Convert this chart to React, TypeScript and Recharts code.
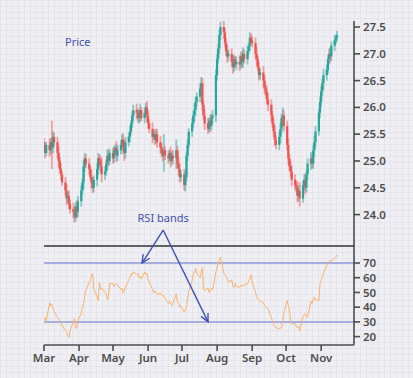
import {
  Bar,
  ComposedChart,
  Line,
  LineChart,
  ReferenceLine,
  XAxis,
  YAxis,
} from "recharts";

// closing prices per trading day, Mar 1 -> Nov 15
const closes = [
  // Mar
  25.25, 25.15, 25.3, 25.2, 25.35, 25.25, 25.45, 25.35, 25.15, 25.0, 24.85,
  24.75, 24.6, 24.45, 24.3, 24.35, 24.2, 24.1, 24.05, 23.95, 24.15, 24.05,
  24.25,
  // Apr
  24.45, 24.6, 24.9, 25.05, 24.95, 24.85, 24.7, 24.6, 24.5, 24.65, 24.85,
  25.05, 25.0, 24.9, 24.75, 24.8, 24.95, 25.1, 25.0, 25.15,
  // May
  25.05, 25.2, 25.25, 25.1, 25.2, 25.3, 25.4, 25.25, 25.15, 25.35, 25.45,
  25.55, 25.7, 25.85, 25.95, 25.9, 25.8, 25.85, 25.95, 25.8, 25.9, 26.0,
  25.85,
  // Jun
  25.7, 25.6, 25.45, 25.5, 25.4, 25.5, 25.35, 25.25, 25.15, 25.1, 25.2, 25.1,
  25.05, 25.15, 25.0, 25.1, 25.05, 25.2, 24.95, 24.85, 24.7, 24.75,
  // Jul
  24.55, 24.7, 25.1, 25.3, 25.55, 25.7, 25.85, 25.95, 26.1, 26.2, 26.35,
  26.45, 26.05, 25.85, 25.7, 25.6, 25.75, 25.65, 25.8, 25.85, 26.6,
  // Aug
  26.9, 27.1, 27.35, 27.5, 27.4, 27.2, 27.05, 26.95, 27.0, 26.85, 26.75, 26.9,
  26.8, 26.85, 26.8, 26.95, 26.85, 27.0, 26.9, 27.05, 27.15, 27.3, 27.25,
  // Sep
  27.2, 27.0, 26.9, 26.75, 26.6, 26.65, 26.5, 26.35, 26.3, 26.15, 26.05,
  25.85, 25.7, 25.55, 25.4, 25.3, 25.45, 25.6, 25.8, 25.85, 25.65,
  // Oct
  25.3, 25.05, 24.9, 24.8, 24.65, 24.55, 24.5, 24.35, 24.45, 24.3, 24.55,
  24.65, 24.5, 24.75, 24.95, 25.05, 24.95, 25.2, 25.35, 25.55, 25.9, 26.1,
  // Nov
  26.3, 26.45, 26.6, 26.7, 26.9, 27.0, 26.95, 27.15, 27.25, 27.3, 27.35,
];
const firstOpen = 25.35;

// how far the wick reaches past the body, per day
const wicks = [
  // Mar
  0.08, 0.1, 0.06, 0.12, 0.08, 0.4, 0.1, 0.08, 0.1, 0.12, 0.08, 0.1, 0.06,
  0.1, 0.12, 0.08, 0.1, 0.08, 0.12, 0.1, 0.08, 0.12, 0.1,
  // Apr
  0.1, 0.08, 0.12, 0.1, 0.08, 0.1, 0.06, 0.12, 0.1, 0.08, 0.12, 0.1, 0.08,
  0.1, 0.15, 0.1, 0.08, 0.12, 0.1, 0.08,
  // May
  0.1, 0.08, 0.06, 0.12, 0.1, 0.08, 0.1, 0.12, 0.15, 0.1, 0.08, 0.1, 0.06,
  0.08, 0.1, 0.12, 0.08, 0.1, 0.12, 0.06, 0.1, 0.08, 0.12,
  // Jun
  0.1, 0.08, 0.12, 0.06, 0.1, 0.08, 0.1, 0.12, 0.08, 0.1, 0.3, 0.08, 0.1,
  0.06, 0.12, 0.08, 0.1, 0.2, 0.08, 0.12, 0.1, 0.08,
  // Jul
  0.1, 0.12, 0.08, 0.1, 0.06, 0.1, 0.08, 0.12, 0.1, 0.08, 0.1, 0.12, 0.1,
  0.08, 0.12, 0.1, 0.06, 0.12, 0.08, 0.1, 0.12,
  // Aug
  0.1, 0.08, 0.1, 0.1, 0.12, 0.08, 0.1, 0.12, 0.08, 0.1, 0.12, 0.08, 0.06,
  0.1, 0.12, 0.08, 0.1, 0.12, 0.08, 0.1, 0.06, 0.1, 0.08,
  // Sep
  0.08, 0.1, 0.12, 0.06, 0.1, 0.08, 0.12, 0.1, 0.08, 0.1, 0.12, 0.1, 0.08,
  0.1, 0.12, 0.08, 0.1, 0.12, 0.08, 0.15, 0.1,
  // Oct
  0.1, 0.12, 0.08, 0.1, 0.12, 0.1, 0.08, 0.12, 0.1, 0.15, 0.08, 0.1, 0.12,
  0.08, 0.1, 0.12, 0.08, 0.1, 0.12, 0.1, 0.08, 0.1,
  // Nov
  0.1, 0.08, 0.12, 0.1, 0.08, 0.1, 0.12, 0.08, 0.1, 0.06, 0.08,
];

const rsi = [
  // Mar
  29, 33, 31, 43, 41, 42, 39, 37, 33, 32, 30, 29, 27.5, 24, 23, 21, 19.5, 24,
  30, 32, 26, 25.5, 31,
  // Apr
  36, 40, 42.5, 47, 51.5, 57, 58, 62, 63, 52, 47, 44.5, 57, 52, 53, 50, 49, 45,
  47, 56,
  // May
  56, 54, 55, 56, 55, 52, 53, 49.5, 51, 53.5, 58.5, 60, 63, 62, 64, 62, 63, 60,
  61, 59, 64, 62, 63,
  // Jun
  58.5, 57, 52, 49.5, 51, 50, 48.5, 49.5, 48, 47.5, 48, 46, 42.5, 44, 42, 41,
  43, 49, 43, 42.5, 40, 41,
  // Jul
  36.5, 38, 40, 46, 51, 58, 62, 64, 66.5, 63, 60, 64, 67, 52, 51.5, 53, 50, 52,
  53, 51.5, 64,
  // Aug
  67, 70, 72, 74, 63, 62, 61, 59, 57, 58.5, 54, 53.5, 56, 54, 53.5, 55, 54, 55,
  55, 56, 58, 59.5, 62,
  // Sep
  57, 50, 47, 45.5, 44.5, 44, 43, 41, 40, 39.5, 39, 33, 30, 28, 26.5, 26,
  25.5, 25.5, 27, 30, 36,
  // Oct
  44.5, 41, 38, 31, 28.5, 29, 27, 26, 27, 24, 34, 35, 35.5, 33, 33.5, 44,
  42.5, 45, 47, 45, 44.5, 56,
  // Nov
  58, 61, 63, 68.5, 70, 71, 72, 71, 73.5, 74, 75.5,
];

const months = ["Mar", "Apr", "May", "Jun", "Jul", "Aug", "Sep", "Oct", "Nov"];
const monthStarts = [0, 31, 61, 92, 122, 153, 184, 214, 245]; // days since Mar 1
const priceTicks = [24, 24.5, 25, 25.5, 26, 26.5, 27, 27.5];
const rsiTicks = [20, 30, 40, 50, 60, 70];
const bands = [70, 30];

const UP = "#26a69a";
const DOWN = "#ef5350";
const BLUE = "#3f51b5";
const AXIS = "#4d4d4d";
const FONT = "'Noto Sans', sans-serif";

// trading days (weekdays) from Wed Mar 1
const tradingDays: number[] = [];
for (let d = 0; tradingDays.length < closes.length; d++) {
  const dow = (3 + d) % 7;
  if (dow !== 0 && dow !== 6) tradingDays.push(d);
}

const rows = tradingDays.map((day, i) => {
  const open = i === 0 ? firstOpen : closes[i - 1];
  const close = closes[i];
  const top = Math.max(open, close);
  const bottom = Math.min(open, close);
  return {
    day,
    open,
    close,
    range: [bottom - wicks[i], top + wicks[i]],
    rsi: rsi[i],
  };
});

const X_DOMAIN: [number, number] = [0, 274];

const Candle = (props: any) => {
  const { x, y, width, height, payload } = props;
  const up = payload.close >= payload.open;
  const color = up ? UP : DOWN;
  const [lo, hi] = payload.range;
  const span = hi - lo || 1;
  const top = Math.max(payload.open, payload.close);
  const bottom = Math.min(payload.open, payload.close);
  const by = y + ((hi - top) / span) * height;
  const bh = Math.max(((top - bottom) / span) * height, 1.5);
  const cx = x + width / 2;
  return (
    <g>
      <rect
        x={cx - 0.9}
        y={y}
        width={1.8}
        height={height}
        fill={color}
        opacity={0.5}
      />
      <rect x={cx - 1.1} y={by} width={2.2} height={bh} fill={color} />
    </g>
  );
};

const Arrow = (props: any) => {
  const { x1, y1, x2, y2, withLabel } = props;
  const a = Math.atan2(y2 - y1, x2 - x1);
  const len = 9;
  const p1 = [x2 - len * Math.cos(a - 0.45), y2 - len * Math.sin(a - 0.45)];
  const p2 = [x2 - len * Math.cos(a + 0.45), y2 - len * Math.sin(a + 0.45)];
  return (
    <g>
      <line x1={x1} y1={y1} x2={x2} y2={y2} stroke={BLUE} strokeWidth={1.4} />
      <polyline
        points={`${p1[0]},${p1[1]} ${x2},${y2} ${p2[0]},${p2[1]}`}
        fill="none"
        stroke={BLUE}
        strokeWidth={1.4}
      />
      {withLabel && (
        <text
          x={x1}
          y={y1 - 8}
          textAnchor="middle"
          fill={BLUE}
          fontSize={11}
          fontFamily={FONT}
        >
          RSI bands
        </text>
      )}
    </g>
  );
};

const tickStyle = {
  fontSize: 11.5,
  fill: AXIS,
  fontFamily: FONT,
  fontWeight: 600,
};

export default function App() {
  return (
    <div
      style={{
        position: "absolute",
        left: 0,
        top: 0,
        width: 413,
        height: 378,
        backgroundColor: "#f0eff4",
        backgroundImage:
          "linear-gradient(#e6e5ec 1px, transparent 1px), linear-gradient(90deg, #e6e5ec 1px, transparent 1px)",
        backgroundSize: "6px 6px",
        overflow: "hidden",
      }}
    >
      <div
        style={{
          position: "absolute",
          left: 65,
          top: 34,
          color: BLUE,
          fontSize: 11,
          fontFamily: FONT,
        }}
      >
        Price
      </div>
      <div style={{ position: "absolute", left: 0, top: 0 }}>
        <ComposedChart
          width={413}
          height={250}
          data={rows}
          margin={{ top: 21, right: 0, bottom: 4, left: 44 }}
        >
          <XAxis
            dataKey="day"
            type="number"
            domain={X_DOMAIN}
            allowDataOverflow
            hide
          />
          <YAxis
            orientation="right"
            width={59}
            domain={[23.414, 27.612]}
            allowDataOverflow
            ticks={priceTicks}
            interval={0}
            tickFormatter={(v: number) => v.toFixed(1)}
            tick={tickStyle}
            axisLine={{ stroke: AXIS, strokeWidth: 1.6 }}
            tickLine={{ stroke: AXIS, strokeWidth: 1.6 }}
            tickSize={6}
            tickMargin={3}
          />
          <Bar
            dataKey="range"
            barSize={2}
            shape={Candle}
            isAnimationActive={false}
          />
        </ComposedChart>
      </div>
      <div style={{ position: "absolute", left: 0, top: 200 }}>
        <LineChart
          width={413}
          height={178}
          data={rows}
          margin={{ top: 46, right: 0, bottom: 8, left: 44 }}
        >
          <XAxis
            dataKey="day"
            type="number"
            domain={X_DOMAIN}
            allowDataOverflow
            ticks={monthStarts}
            tickFormatter={(v: number) => months[monthStarts.indexOf(v)]}
            tick={tickStyle}
            axisLine={{ stroke: AXIS, strokeWidth: 1.6 }}
            tickLine={{ stroke: AXIS, strokeWidth: 1.6 }}
            tickSize={6}
            tickMargin={3}
            height={25}
            interval={0}
          />
          <YAxis
            orientation="right"
            width={59}
            domain={[14.3, 81.55]}
            allowDataOverflow
            ticks={rsiTicks}
            interval={0}
            tick={tickStyle}
            axisLine={{ stroke: AXIS, strokeWidth: 1.6 }}
            tickLine={{ stroke: AXIS, strokeWidth: 1.6 }}
            tickSize={6}
            tickMargin={3}
          />
          <ReferenceLine y={81.55} stroke="#333333" strokeWidth={1.5} />
          {bands.map((b) => (
            <ReferenceLine key={b} y={b} stroke="#8c98d8" strokeWidth={1.5} />
          ))}
          <Line
            dataKey="rsi"
            type="linear"
            stroke="#f8b36e"
            strokeWidth={1}
            dot={false}
            isAnimationActive={false}
          />
          <ReferenceLine
            segment={[
              { x: 105.3, y: 92.4 },
              { x: 86.7, y: 70 },
            ]}
            ifOverflow="visible"
            shape={(p: any) => <Arrow {...p} withLabel />}
          />
          <ReferenceLine
            segment={[
              { x: 105.3, y: 92.4 },
              { x: 145, y: 30 },
            ]}
            ifOverflow="visible"
            shape={(p: any) => <Arrow {...p} />}
          />
        </LineChart>
      </div>
    </div>
  );
}
